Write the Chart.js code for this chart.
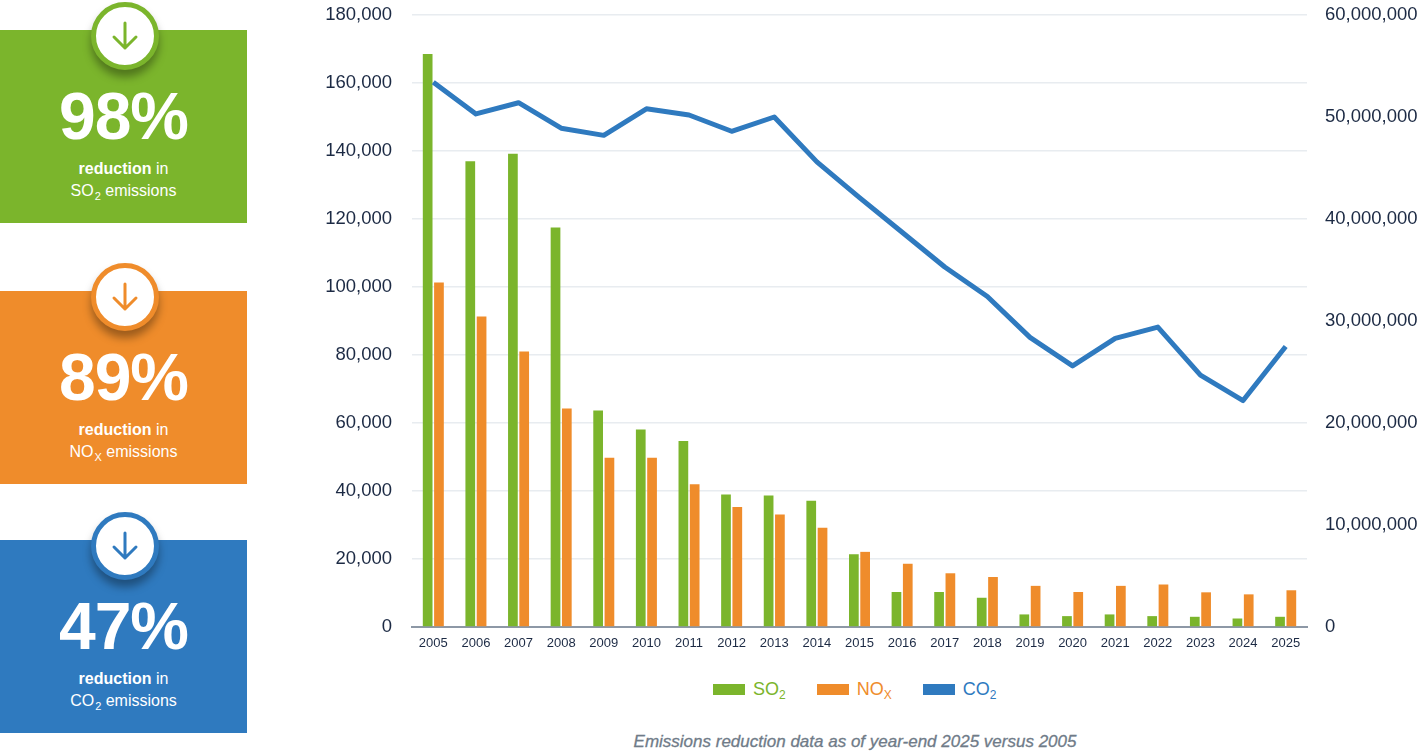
<!DOCTYPE html>
<html lang="en">
  <head>
    <meta charset="UTF-8" />
    <title>Emissions reduction</title>
    <script src="https://cdn.jsdelivr.net/npm/chart.js"></script>
    <style>
      html, body { margin: 0; padding: 0; background: #fff; }
      body { width: 1428px; height: 756px; position: relative; overflow: hidden;
        font-family: "Liberation Sans", Arial, Helvetica, sans-serif; }
      .panel { position: absolute; left: 0; width: 247px; height: 193px; color: #fff; text-align: center; }
      .panel .ring { position: absolute; left: 91px; top: -28px; width: 58px; height: 58px;
        border-radius: 50%; background: #fff; border: 5px solid; box-shadow: 0 7px 9px rgba(0,0,0,0.35); }
      .panel .ring svg { position: absolute; left: 14px; top: 13px; }
      .panel .pct { position: absolute; left: 0; right: 0; top: 48px; font-size: 66px; font-weight: bold;
        letter-spacing: -1px; line-height: 76px; }
      .panel .txt { position: absolute; left: 0; right: 0; top: 128px; font-size: 16px; line-height: 21.5px; }
      .panel .txt b { font-weight: bold; }
      .panel sub { font-size: 11px; vertical-align: -4px; margin-left: 1px; }
      #chartBox { position: absolute; left: 300px; top: 0; width: 1128px; height: 662px; }
      #legend { position: absolute; left: 713px; top: 678px; display: flex; align-items: center;
        font-size: 18px; }
      #legend .item { display: flex; align-items: center; margin-right: 31px; }
      #legend .sw { width: 32px; height: 11px; margin-right: 8px; }
      #legend .lbl { display: inline-block; line-height: 22px; }
      #legend sub { font-size: 12px; vertical-align: -4px; line-height: 0; }
      #caption { position: absolute; left: 0; width: 1710px; top: 732px; text-align: center;
        font-size: 17px; font-style: italic; color: #6f7b88; -webkit-text-stroke: 0.3px #6f7b88; }
    </style>
  </head>
  <body>
    <div class="panel" style="top:30px;background:#7bb52c;">
      <div class="ring" style="border-color:#7bb52c;">
        <svg width="30" height="32" viewBox="0 0 30 32"><path d="M15 3 V28 M4 17 L15 28 L26 17" fill="none" stroke="#7bb52c" stroke-width="3" stroke-linecap="round" stroke-linejoin="round"/></svg>
      </div>
      <div class="pct">98%</div>
      <div class="txt"><b>reduction</b> in<br />SO<sub>2</sub> emissions</div>
    </div>
    <div class="panel" style="top:291px;background:#ef8c2b;">
      <div class="ring" style="border-color:#ef8c2b;">
        <svg width="30" height="32" viewBox="0 0 30 32"><path d="M15 3 V28 M4 17 L15 28 L26 17" fill="none" stroke="#ef8c2b" stroke-width="3" stroke-linecap="round" stroke-linejoin="round"/></svg>
      </div>
      <div class="pct">89%</div>
      <div class="txt"><b>reduction</b> in<br />NO<sub>X</sub> emissions</div>
    </div>
    <div class="panel" style="top:540px;background:#2f7abf;">
      <div class="ring" style="border-color:#2f7abf;">
        <svg width="30" height="32" viewBox="0 0 30 32"><path d="M15 3 V28 M4 17 L15 28 L26 17" fill="none" stroke="#2f7abf" stroke-width="3" stroke-linecap="round" stroke-linejoin="round"/></svg>
      </div>
      <div class="pct">47%</div>
      <div class="txt"><b>reduction</b> in<br />CO<sub>2</sub> emissions</div>
    </div>

    <div id="chartBox"><canvas id="emissionsChart"></canvas></div>

    <div id="legend">
      <div class="item" style="color:#7bb52c;"><div class="sw" style="background:#7bb52c;"></div><span class="lbl">SO<sub>2</sub></span></div>
      <div class="item" style="color:#ef8c2b;"><div class="sw" style="background:#ef8c2b;"></div><span class="lbl">NO<sub>X</sub></span></div>
      <div class="item" style="color:#2f7abf;"><div class="sw" style="background:#2f7abf;"></div><span class="lbl">CO<sub>2</sub></span></div>
    </div>
    <div id="caption">Emissions reduction data as of year-end 2025 versus 2005</div>

    <script>
      const years = ["2005", "2006", "2007", "2008", "2009", "2010", "2011", "2012", "2013", "2014",
        "2015", "2016", "2017", "2018", "2019", "2020", "2021", "2022", "2023", "2024", "2025"];

      // tons, left axis
      const so2 = [168500, 137000, 139200, 117500, 63700, 58100, 54700, 39000, 38700, 37100,
        21400, 10300, 10300, 8600, 3700, 3200, 3700, 3200, 3000, 2500, 3000];
      const nox = [101300, 91300, 81000, 64300, 49800, 49800, 42000, 35300, 33100, 29200,
        22100, 18600, 15800, 14700, 12100, 10300, 12100, 12500, 10200, 9600, 10800];

      // tons, right axis
      const co2 = [53400000, 50300000, 51400000, 48900000, 48200000, 50800000, 50200000, 48600000,
        50000000, 45600000, 42100000, 38700000, 35300000, 32400000, 28400000, 25600000, 28300000,
        29400000, 24700000, 22200000, 27500000];

      const leftMax = 180000;
      const leftStep = 20000;
      const rightMax = 60000000;
      const rightStep = 10000000;

      const green = "#7bb52c";
      const orange = "#ef8c2b";
      const blue = "#2f7abf";
      const tickColor = "#1c2a44";

      const ctx = document.getElementById("emissionsChart").getContext("2d");
      new Chart(ctx, {
        type: "bar",
        data: {
          labels: years,
          datasets: [
            {
              type: "line",
              label: "CO2",
              data: co2,
              yAxisID: "y1",
              borderColor: blue,
              borderWidth: 5,
              pointRadius: 0,
              tension: 0,
              borderJoinStyle: "round",
              order: 0,
            },
            {
              label: "SO2",
              data: so2,
              yAxisID: "y",
              backgroundColor: green,
              categoryPercentage: 0.53,
              barPercentage: 0.86,
              order: 1,
            },
            {
              label: "NOx",
              data: nox,
              yAxisID: "y",
              backgroundColor: orange,
              categoryPercentage: 0.53,
              barPercentage: 0.86,
              order: 1,
            },
          ],
        },
        options: {
          responsive: true,
          maintainAspectRatio: false,
          animation: false,
          layout: { padding: { top: 15, left: 0, right: 0, bottom: 0 } },
          plugins: {
            legend: { display: false },
            tooltip: { enabled: false },
          },
          scales: {
            x: {
              grid: { display: false, drawTicks: false },
              border: { display: true, color: "#8d98a6", width: 2 },
              ticks: {
                color: tickColor,
                font: { size: 13, family: "'Liberation Sans', Arial, sans-serif" },
                padding: 9,
                maxRotation: 0,
                autoSkip: false,
              },
              afterFit: (scale) => { scale.height = 35; },
            },
            y: {
              position: "left",
              min: 0,
              max: leftMax,
              grid: { color: "#e8ecf0", lineWidth: 1.5, drawTicks: true, tickLength: 20, tickColor: "rgba(0,0,0,0)" },
              border: { display: false },
              ticks: {
                stepSize: leftStep,
                color: tickColor,
                font: { size: 18.5, family: "'Liberation Sans', Arial, sans-serif" },
                padding: 0,
                callback: (v) => v.toLocaleString("en-US"),
              },
              afterFit: (scale) => { scale.width = 112; },
            },
            y1: {
              position: "right",
              min: 0,
              max: rightMax,
              grid: { display: true, drawOnChartArea: false, drawTicks: true, tickLength: 18, tickColor: "rgba(0,0,0,0)" },
              border: { display: false },
              ticks: {
                stepSize: rightStep,
                color: tickColor,
                font: { size: 18.5, family: "'Liberation Sans', Arial, sans-serif" },
                padding: 0,
                callback: (v) => v.toLocaleString("en-US"),
              },
              afterFit: (scale) => { scale.width = 121; },
            },
          },
        },
      });
    </script>
  </body>
</html>
